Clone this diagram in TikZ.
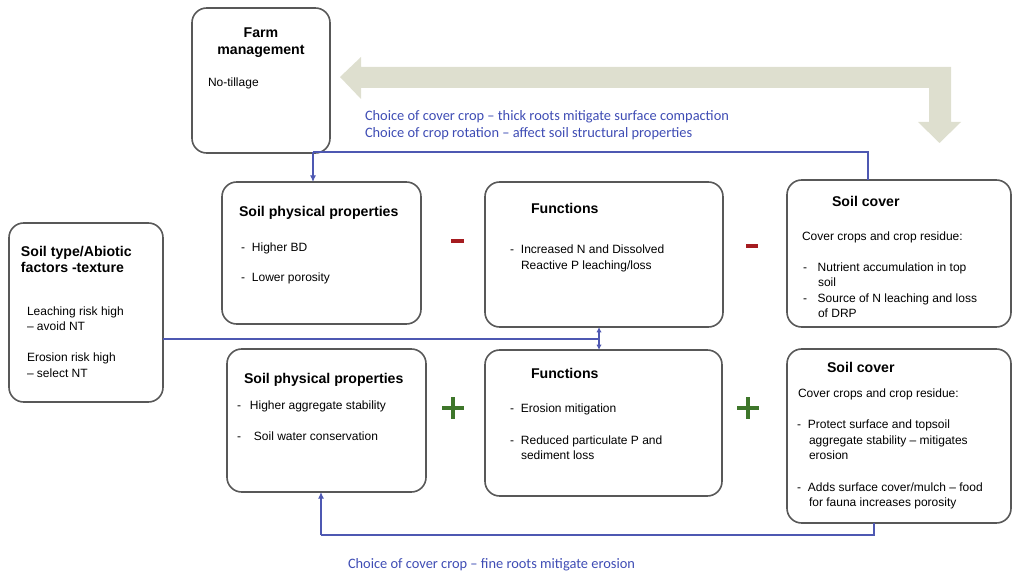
\documentclass[tikz,border=0pt]{standalone}
\usepackage{fontspec}
\setmainfont{Liberation Sans}
\newfontfamily\calib{Carlito}
\usetikzlibrary{arrows.meta}
\definecolor{boxgray}{RGB}{88,88,88}
\definecolor{linkblue}{RGB}{78,88,178}
\definecolor{textblue}{RGB}{62,76,180}
\definecolor{minusred}{RGB}{165,28,32}
\definecolor{plusgreen}{RGB}{62,118,42}
\definecolor{beige}{RGB}{222,223,207}
\tikzstyle{every node}+=[inner sep=0pt, outer sep=0pt]
\tikzstyle{block} = [rectangle, draw=boxgray, line width=1.2pt, rounded corners=11pt, anchor=north west]
\tikzstyle{head} = [anchor=base west, font=\fontsize{10.6}{12}\selectfont\bfseries]
\tikzstyle{txt} = [anchor=base west, font=\fontsize{9}{11}\selectfont]
\tikzstyle{note} = [anchor=base west, text=textblue, font=\calib\fontsize{10.8}{12}\selectfont]
\tikzstyle{line} = [draw=linkblue, line width=0.8pt]
\tikzstyle{arr} = [line, -{Latex[length=5pt,width=4.5pt]}]

\begin{document}
\begin{tikzpicture}[x=0.75pt, y=-0.75pt]
\useasboundingbox (0,0) rectangle (1013,574);
% Place nodes
\node [block, minimum width=103.5pt, minimum height=108.75pt] (fm) at (192,8) {};
\node [block, minimum width=115.5pt, minimum height=134.25pt] (stf) at (9,223) {};
\node [block, minimum width=149.25pt, minimum height=106.5pt] (spt) at (222,182) {};
\node [block, minimum width=178.5pt, minimum height=108.75pt] (fnt) at (485,182) {};
\node [block, minimum width=168pt, minimum height=110.25pt] (sct) at (787,180) {};
\node [block, minimum width=149.25pt, minimum height=107.25pt] (spb) at (227,349) {};
\node [block, minimum width=177.75pt, minimum height=109.5pt] (fnb) at (485,350) {};
\node [block, minimum width=168pt, minimum height=130.5pt] (scb) at (787,349) {};
% Farm management
\node [head, anchor=base] (fm1) at (261,38) {Farm};
\node [head, anchor=base] (fm2) at (261,55) {management};
\node [txt] (fm3) at (208,87) {No-tillage};
% Soil type
\node [head] (st1) at (21,256) {Soil type/Abiotic};
\node [head] (st2) at (21,272) {factors -texture};
\node [txt] (st3) at (27,315) {Leaching risk high};
\node [txt] (st4) at (27,330) {– avoid NT};
\node [txt] (st5) at (27,361) {Erosion risk high};
\node [txt] (st6) at (27,377) {– select NT};
% Soil physical properties (top)
\node [head] (pt1) at (239,216) {Soil physical properties};
\node [txt] (pt2) at (241,251) {-\hspace{5.2pt}Higher BD};
\node [txt] (pt3) at (241,281) {-\hspace{5.2pt}Lower porosity};
% Functions (top)
\node [head] (ft1) at (531,214) {Functions};
\node [txt] (ft2) at (510,253) {-\hspace{5.2pt}Increased N and Dissolved};
\node [txt] (ft3) at (521,269) {Reactive P leaching/loss};
% Soil cover (top)
\node [head] (ct1) at (832,206) {Soil cover};
\node [txt] (ct2) at (802,240) {Cover crops and crop residue:};
\node [txt] (ct3) at (803,271) {-\hspace{8pt}Nutrient accumulation in top};
\node [txt] (ct4) at (818,286) {soil};
\node [txt] (ct5) at (803,302) {-\hspace{8pt}Source of N leaching and loss};
\node [txt] (ct6) at (818,317) {of DRP};
% Soil physical properties (bottom)
\node [head] (pb1) at (244,383) {Soil physical properties};
\node [txt] (pb2) at (237,409) {-\hspace{6.7pt}Higher aggregate stability};
\node [txt] (pb3) at (237,440) {-\hspace{9.7pt}Soil water conservation};
% Functions (bottom)
\node [head] (fb1) at (531,378) {Functions};
\node [txt] (fb2) at (510,412) {-\hspace{5.2pt}Erosion mitigation};
\node [txt] (fb3) at (510,444) {-\hspace{5.2pt}Reduced particulate P and};
\node [txt] (fb4) at (521,459) {sediment loss};
% Soil cover (bottom)
\node [head] (cb1) at (827,372) {Soil cover};
\node [txt] (cb2) at (798,397) {Cover crops and crop residue:};
\node [txt] (cb3) at (797,428) {-\hspace{5.2pt}Protect surface and topsoil};
\node [txt] (cb4) at (809,444) {aggregate stability – mitigates};
\node [txt] (cb5) at (809,459) {erosion};
\node [txt] (cb6) at (797,491) {-\hspace{5.2pt}Adds surface cover/mulch – food};
\node [txt] (cb7) at (809,506) {for fauna increases porosity};
% Blue notes
\node [note] (n1) at (365,121) {Choice of cover crop – thick roots mitigate surface compaction};
\node [note] (n2) at (365,138) {Choice of crop rotation – affect soil structural properties};
\node [note] (n3) at (348,568) {Choice of cover crop – fine roots mitigate erosion};
% Big arrow
\fill [beige] (340,77) -- (361,57) -- (361,67) -- (951,67) -- (951,122) -- (961,122)
  -- (939.5,143) -- (918,122) -- (929,122) -- (929,88) -- (361,88) -- (361,99) -- cycle;
% Signs
\fill [minusred] (451,239) rectangle (464,243);
\fill [minusred] (746,244) rectangle (758,248);
\foreach \x in {453,748} {
  \fill [plusgreen] (\x-11,406) rectangle (\x+11,410);
  \fill [plusgreen] (\x-2,397) rectangle (\x+2,419);
}
% Draw edges
\coordinate (j1) at (868,152);
\coordinate (j2) at (313,152);
\coordinate (j3) at (599,339);
\coordinate (j4) at (874,535);
\coordinate (j5) at (321,535);
\path [line] (sct.north -| j1) -- (j1) -- (j2);
\path [arr] (j2) -- (spt.north -| j2);
\path [line] (stf.east |- j3) -- (j3);
\path [line, {Latex[length=4pt,width=4pt]}-{Latex[length=4pt,width=4pt]}] (fnt.south -| j3) -- (fnb.north -| j3);
\path [line] (scb.south -| j4) -- (j4) -- (j5);
\path [arr] (j5) -- (spb.south -| j5);
\end{tikzpicture}
\end{document}
